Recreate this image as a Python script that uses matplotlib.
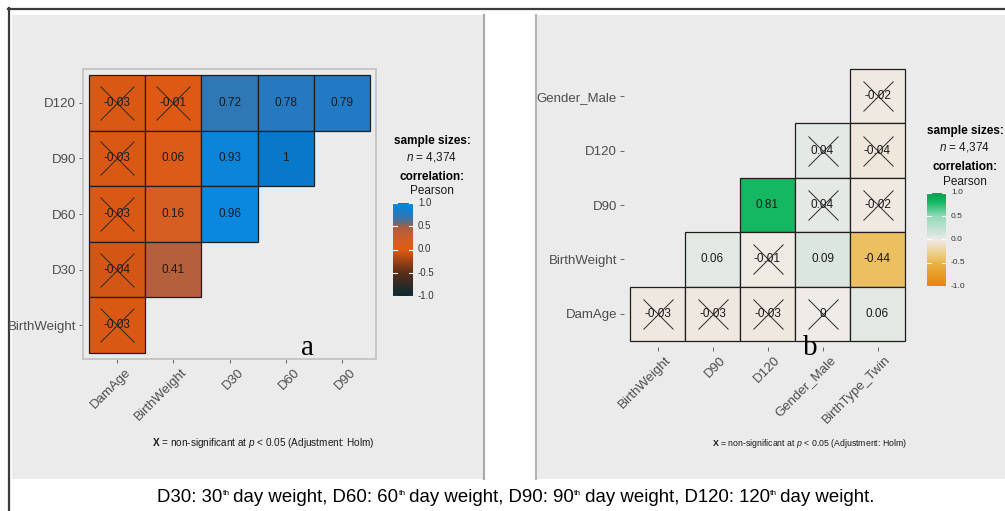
import numpy as np
import matplotlib
matplotlib.use("Agg")
import matplotlib.pyplot as plt
import matplotlib.transforms as mtrans
from matplotlib.colors import LinearSegmentedColormap, Normalize
from matplotlib.patches import Rectangle

plt.rcParams['font.family'] = ['Liberation Sans', 'DejaVu Sans']
plt.rcParams['mathtext.fontset'] = 'custom'
plt.rcParams['mathtext.rm'] = 'Liberation Sans'
plt.rcParams['mathtext.it'] = 'Liberation Sans:italic'
plt.rcParams['mathtext.bf'] = 'Liberation Sans:bold'

nan = np.nan
# ---------------- data: panel a ----------------
a_cols = ["DamAge", "BirthWeight", "D30", "D60", "D90"]
a_rows = ["D120", "D90", "D60", "D30", "BirthWeight"]  # top to bottom
a_r = [
    [-0.03, -0.01, 0.72, 0.78, 0.79],
    [-0.03, 0.06, 0.93, 1.00, nan],
    [-0.03, 0.16, 0.96, nan, nan],
    [-0.04, 0.41, nan, nan, nan],
    [-0.03, nan, nan, nan, nan],
]
a_nonsig = [
    [1, 1, 0, 0, 0],
    [1, 0, 0, 0, 0],
    [1, 0, 0, 0, 0],
    [1, 0, 0, 0, 0],
    [1, 0, 0, 0, 0],
]
# ---------------- data: panel b ----------------
b_cols = ["BirthWeight", "D90", "D120", "Gender_Male", "BirthType_Twin"]
b_rows = ["Gender_Male", "D120", "D90", "BirthWeight", "DamAge"]  # top to bottom
b_r = [
    [nan, nan, nan, nan, -0.02],
    [nan, nan, nan, 0.04, -0.04],
    [nan, nan, 0.81, 0.04, -0.02],
    [nan, 0.06, -0.01, 0.09, -0.44],
    [-0.03, -0.03, -0.03, 0.00, 0.06],
]
b_nonsig = [
    [0, 0, 0, 0, 1],
    [0, 0, 0, 1, 1],
    [0, 0, 0, 1, 1],
    [0, 0, 1, 0, 0],
    [1, 1, 1, 1, 0],
]
sample_n = "4,374"
cbar_ticks = [-1.0, -0.5, 0.0, 0.5, 1.0]
caption_parts = [("D30: 30", ""), ("th", "sup"), (" day weight, D60: 60", ""), ("th", "sup"),
                 (" day weight, D90: 90", ""), ("th", "sup"), (" day weight, D120: 120", ""),
                 ("th", "sup"), (" day weight.", "")]

# colour scales
cmap_a = LinearSegmentedColormap.from_list("a", [
    (0.00, "#0b2a33"), (0.25, "#5a2e18"), (0.50, "#e05a14"), (0.58, "#d65e22"),
    (0.70, "#b8603a"), (0.75, "#a05e44"), (0.80, "#5a6e8c"), (0.86, "#2e78b4"),
    (0.89, "#2479c0"), (0.965, "#0a84d8"), (0.98, "#0a88e0"), (1.00, "#0878ca")])
cmap_b = LinearSegmentedColormap.from_list("b", [
    (0.00, "#e6860a"), (0.25, "#ebb448"), (0.28, "#ecc062"), (0.50, "#efebe8"),
    (0.52, "#e6e9e6"), (0.545, "#dce6e0"), (0.75, "#92dab8"), (0.905, "#14b862"),
    (1.00, "#0ca052")])
norm = Normalize(-1, 1)

W, H = 1005, 511
fig = plt.figure(figsize=(W / 100, H / 100), dpi=100)
fig.patch.set_facecolor("white")


def fx(px):
    return px / W


def fy(py):
    return 1 - py / H


def add_ax(x0, y0, x1, y1, **kw):
    return fig.add_axes([fx(x0), fy(y1), (x1 - x0) / W, (y1 - y0) / H], **kw)


# panel backgrounds
bg = add_ax(0, 0, W, H)
bg.set_xlim(0, W)
bg.set_ylim(H, 0)
bg.axis("off")
bg.add_patch(Rectangle((12, 15), 472, 464, facecolor="#ebebeb", edgecolor="none"))
bg.add_patch(Rectangle((535, 15), 475, 464, facecolor="#ebebeb", edgecolor="none"))
bg.plot([483.5, 483.5], [15, 479], color="#a8a8a8", lw=1.5)
bg.plot([536, 536], [15, 479], color="#b4b4b4", lw=1.5)
bg.plot([8, 1005], [9, 9], color="#3c3c3c", lw=1.6)
bg.plot([9, 9], [8, 511], color="#3c3c3c", lw=1.6)


def heat(ax, rows, cols, r, nonsig, cmap, fs, msize, xoff):
    for i in range(len(rows)):
        for j in range(len(cols)):
            v = r[i][j]
            if np.isnan(v):
                continue
            ax.add_patch(Rectangle((j - 0.5, i - 0.5), 1, 1, facecolor=cmap(norm(v)),
                                   edgecolor="#1e1e1e", linewidth=0.9))
            ax.text(j, i, f"{v:g}", ha="center", va="center", fontsize=fs, color="#1a1a1a")
            if nonsig[i][j]:
                ax.plot(j, i, marker="x", markersize=msize, color="#2a2a2a",
                        markeredgewidth=0.7, linestyle="none")
    ax.set_xticks(range(len(cols)))
    ax.set_xticklabels(cols)
    ax.set_yticks(range(len(rows)))
    ax.set_yticklabels(rows)
    ax.tick_params(axis="both", colors="#4d4d4d", labelcolor="#4d4d4d",
                   length=3, width=0.6, labelsize=9.5, pad=2)
    off = mtrans.ScaledTranslation(xoff / 100, 0, fig.dpi_scale_trans)
    for lbl in ax.get_xticklabels():
        lbl.set_rotation(45)
        lbl.set_rotation_mode("anchor")
        lbl.set_ha("right")
        lbl.set_va("top")
        lbl.set_transform(lbl.get_transform() + off)


# ---------------- panel a ----------------
axa = add_ax(83, 69, 376, 359)
axa.set_facecolor("#ebebeb")
heat(axa, a_rows, a_cols, a_r, a_nonsig, cmap_a, 8.5, 25, 8)
m = 6 / 56.2
axa.set_xlim(-0.5 - m, 4.5 + m)
axa.set_ylim(4.5 + m, -0.5 - m)
for s in axa.spines.values():
    s.set_color("#c4c4c4")
    s.set_linewidth(1.3)

# ---------------- panel b ----------------
axb = add_ax(624, 63, 911, 347)
axb.set_facecolor("none")
heat(axb, b_rows, b_cols, b_r, b_nonsig, cmap_b, 8.5, 22, 7)
mb = 6 / 55.0
axb.set_xlim(-0.5 - mb, 4.5 + mb)
axb.set_ylim(4.5 + mb, -0.5 - mb)
for s in axb.spines.values():
    s.set_visible(False)


def legend(cx, y_ss, y_n, y_corr, y_p, cb, tick_fs, cmap):
    fig.text(fx(cx), fy(y_ss), "sample sizes:", ha="center", va="center",
             fontsize=8.5, fontweight="bold")
    fig.text(fx(cx), fy(y_n), r"$n$ = " + sample_n, ha="center", va="center", fontsize=8.5,
             color="#1a1a1a")
    fig.text(fx(cx), fy(y_corr), "correlation:", ha="center", va="center",
             fontsize=8.5, fontweight="bold")
    fig.text(fx(cx), fy(y_p), "Pearson", ha="center", va="center", fontsize=8.5,
             color="#1a1a1a")
    x0, y0, x1, y1 = cb
    cax = add_ax(x0, y0, x1, y1)
    grad = np.linspace(1, -1, 256).reshape(-1, 1)
    cax.imshow(grad, cmap=cmap, vmin=-1, vmax=1, aspect="auto",
               extent=[0, 1, -1, 1])
    cax.set_xlim(0, 1)
    cax.set_ylim(-1, 1)
    cax.axis("off")
    for t in cbar_ticks:
        cax.plot([0, 0.2], [t, t], color="white", lw=0.8)
        cax.plot([0.8, 1], [t, t], color="white", lw=0.8)
        yy = y1 - (t + 1) / 2 * (y1 - y0)
        fig.text(fx(x1 + 5), fy(yy), f"{t:.1f}", ha="left", va="center",
                 fontsize=tick_fs, color="#333333")


legend(432, 141, 157, 177, 191, (393, 203, 413, 296), 7, cmap_a)
legend(965, 131, 147, 167, 182, (927, 193, 946, 286), 6, cmap_b)

cap = r"$\mathbf{X}$ = non-significant at $p$ < 0.05 (Adjustment: Holm)"
fig.text(fx(263), fy(443), cap, ha="center", va="center", fontsize=7.2, color="#1a1a1a")
fig.text(fx(810), fy(443), cap, ha="center", va="center", fontsize=6.3, color="#1a1a1a")

fig.text(fx(308), fy(355), "a", ha="center", va="baseline", fontsize=21,
         family="Liberation Serif")
fig.text(fx(810), fy(355), "b", ha="center", va="baseline", fontsize=21,
         family="Liberation Serif")

# bottom caption with small superscripts, laid out piece by piece
renderer = fig.canvas.get_renderer()
objs = []
for txt, kind in caption_parts:
    fs = 6.0 if kind == "sup" else 13.4
    t = fig.text(0, 0, txt, fontsize=fs, ha="left", va="baseline", color="black")
    w = t.get_window_extent(renderer).width
    if kind == "sup":
        w -= 1.5
    objs.append((t, w, kind))
total = sum(w for _, w, _ in objs)
x = 516 - total / 2
for t, w, kind in objs:
    yb = 502 - (7.5 if kind == "sup" else 0)
    t.set_position((fx(x), fy(yb)))
    x += w

fig.savefig("out.png", dpi=100)
